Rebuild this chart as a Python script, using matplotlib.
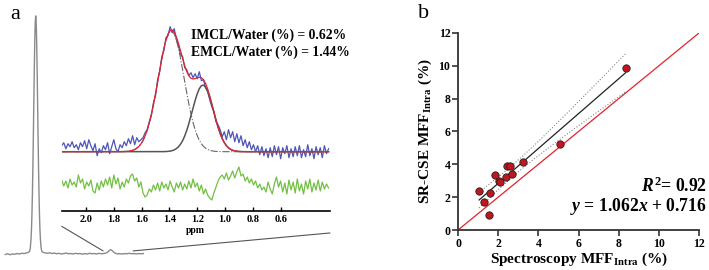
import numpy as np
import matplotlib
matplotlib.use("Agg")
import matplotlib.pyplot as plt
from matplotlib.patches import ConnectionPatch

plt.rcParams["font.family"] = ["Liberation Serif", "DejaVu Serif"]
plt.rcParams["mathtext.fontset"] = "custom"
plt.rcParams["mathtext.rm"] = "Liberation Serif:bold"
plt.rcParams["mathtext.it"] = "Liberation Serif:italic:bold"
plt.rcParams["mathtext.bf"] = "Liberation Serif:bold"

# =================================================
# data - panel a, full spectrum (ppm, relative intensity)
# =================================================
full_ppm = [6.0, 5.9, 5.8, 5.7, 5.6, 5.5, 5.4, 5.3, 5.2, 5.1, 5.05, 5.0,
            4.96, 4.93, 4.90, 4.88, 4.86, 4.84, 4.82, 4.80, 4.78, 4.76,
            4.74, 4.72, 4.70, 4.68, 4.66, 4.64, 4.62, 4.60, 4.58, 4.56,
            4.54, 4.52, 4.50, 4.47, 4.44, 4.40, 4.35, 4.3, 4.2, 4.1, 4.0,
            3.9, 3.8, 3.7, 3.6, 3.5, 3.4, 3.3, 3.2, 3.1, 3.0, 2.9, 2.8,
            2.7, 2.6, 2.5, 2.4, 2.3, 2.2, 2.1, 2.0, 1.9, 1.8, 1.7, 1.65,
            1.6, 1.55, 1.5, 1.45, 1.40, 1.35, 1.30, 1.25, 1.2, 1.15, 1.1,
            1.0, 0.9, 0.8, 0.7, 0.6, 0.5, 0.4, 0.3, 0.2, 0.1]
full_int = [-0.002, 0.001, -0.003, 0.000, -0.001, 0.002, 0.000, 0.003,
            0.002, 0.004, 0.006, 0.008, 0.011, 0.026, 0.063, 0.106, 0.170,
            0.257, 0.369, 0.500, 0.642, 0.779, 0.895, 0.973, 1.000, 0.973,
            0.895, 0.779, 0.642, 0.500, 0.369, 0.257, 0.170, 0.106, 0.063,
            0.026, 0.012, 0.008, 0.006, 0.005, 0.003, 0.005, 0.002, 0.004,
            0.001, 0.003, 0.000, 0.002, 0.004, 0.001, 0.002, 0.000, 0.003,
            0.001, 0.002, -0.001, 0.002, 0.000, 0.003, 0.001, 0.002, 0.000,
            0.003, 0.001, 0.002, 0.004, 0.006, 0.010, 0.015, 0.018, 0.016,
            0.011, 0.006, 0.003, 0.002, 0.000, 0.002, 0.001, 0.000, 0.002,
            0.001, 0.003, 0.001, 0.002, 0.000, 0.002, 0.001, 0.002]

# ppm window shown in the inset (where the zoom lines land on the spectrum)
zoom_window = [1.82, 0.54]

# =================================================
# data - panel a inset (lipid region)
# =================================================
inset_ppm_first = 2.175
inset_ppm_step = 0.015
inset_raw = [6, 9, 3, 8, 5, 10, 4, 7, 2, 9, 5, 11, 3, 12, 6, 1, 8, -4, 3, -1,
             6, 2, 9, -2, 5, 12, 3, 0, 7, 4, 10, 6, 13, 8, 16, 7, 14, 10, 12,
             14, 19, 22, 30, 36, 49, 56, 72, 80, 95, 101, 114, 116, 125, 119,
             123, 112, 106, 97, 95, 84, 82, 76, 79, 74, 78, 73, 80, 71, 72,
             64, 60, 52, 45, 40, 30, 27, 22, 15, 20, 12, 22, 14, 20, 10, 18,
             9, 16, 6, 12, 4, 10, 2, 7, 0, 6, -3, 5, -4, 3, -6, 4, -5, 6, -3,
             5, -7, 4, -2, 6, -6, 3, -5, 5, -4, 6, -6, 2, -5, 7, -4, 3, -7, 5,
             -3, 4, -6, 6, -2, 3]
residual = [5, -1, 4, -3, 6, 0, 3, -2, 10, 2, 6, -4, 3, -1, 5, -6, -8, 2, -5,
            4, -2, 6, 0, 8, -3, 10, 1, 7, -4, 3, -2, 6, 2, 9, 11, 4, 7, -2, 3,
            -8, -12, -10, -4, -7, 0, -5, 2, -6, 3, -3, 1, -5, 4, -2, -7, 2, -3,
            3, -5, 1, -4, 4, -3, 6, -2, 2, -6, 0, -9, -4, -10, -13, -15, -8,
            -2, 4, 8, 10, 6, 12, 5, 9, 14, 7, 13, 18, 9, 11, 4, 8, 2, 6, 0, 4,
            -3, 1, -5, -2, -7, 3, -4, -9, 1, 8, -2, 4, -7, 2, -9, 5, -5, 3, -8,
            6, -6, 1, -9, 4, -4, 6, -7, 2, -5, 5, -6, 3, -4, 1, -3]

# fitted components: (centre ppm, height, width sigma ppm)
peak_dashdot = (1.387, 121.0, 0.093)
peak_solid = (1.159, 66.7, 0.077)

imcl_text = "IMCL/Water (%) = 0.62%"
emcl_text = "EMCL/Water (%) = 1.44%"
inset_ticks = [2.0, 1.8, 1.6, 1.4, 1.2, 1.0, 0.8, 0.6]

# =================================================
# data - panel b
# =================================================
spec_mff = [1.05, 1.28, 1.58, 1.56, 1.84, 2.03, 2.08, 2.38, 2.46, 2.58,
            2.71, 3.24, 5.09, 8.34]
cse_mff = [2.40, 1.71, 2.28, 0.89, 3.34, 2.99, 2.93, 3.23, 3.90, 3.90,
           3.42, 4.17, 5.23, 9.84]
slope, intercept = 1.062, 0.716
r_squared = 0.92
t_crit = 2.179  # 95 %, df = 12

# =================================================
# figure
# =================================================
fig = plt.figure(figsize=(7.09, 2.70), dpi=100)

# ---- full spectrum
ax_full = fig.add_axes([0.0, 0.0296, 0.2116, 0.952])
ax_full.plot(full_ppm, full_int, color="#8a8a8a", lw=1.0)
ax_full.set_xlim(6.226, -0.185)
ax_full.set_ylim(-0.0336, 1.046)
ax_full.axis("off")

# ---- inset
ax_in = fig.add_axes([0.087, 0.2185, 0.3784, 0.7074])
ppm = inset_ppm_first - inset_ppm_step * np.arange(len(inset_raw))


def gauss(x, p):
    c, h, s = p
    return h * np.exp(-0.5 * ((x - c) / s) ** 2)


dd = gauss(ppm, peak_dashdot)
so = gauss(ppm, peak_solid)

ax_in.plot(ppm, inset_raw, color="#4d55b8", lw=0.9)
ax_in.plot(ppm, so, color="#555555", lw=1.1)
ax_in.plot(ppm, dd, color="#666666", lw=0.8, ls="-.")
ax_in.plot(ppm, dd + so, color="#e3232e", lw=0.9)
ax_in.plot(ppm, np.array(residual) - 33.3, color="#72c043", lw=0.9)

ax_in.set_xlim(2.175, 0.245)
ax_in.set_ylim(-59.3, 131.7)
ax_in.set_xticks(inset_ticks)
ax_in.set_xticklabels([f"{t:.1f}" for t in inset_ticks],
                      fontsize=7.5, fontweight="bold")
ax_in.tick_params(axis="x", direction="in", length=3, width=1, pad=3)
ax_in.set_yticks([])
for side in ["left", "right", "top"]:
    ax_in.spines[side].set_visible(False)
ax_in.spines["bottom"].set_linewidth(1.2)
ax_in.patch.set_alpha(0)
ax_in.set_xlabel("ppm", fontsize=7, fontweight="bold", labelpad=1)

# zoom lines from inset to the full spectrum
for frac, y_frac, p in [(0.0, -0.08, zoom_window[0]), (1.0, -0.115, zoom_window[1])]:
    con = ConnectionPatch(xyA=(frac, y_frac), coordsA=ax_in.transAxes,
                          xyB=(p, 0.013), coordsB=ax_full.transData,
                          color="#555555", lw=0.8)
    fig.add_artist(con)

fig.text(0.269, 0.858, imcl_text, fontsize=9.8, fontweight="bold",
         va="baseline")
fig.text(0.269, 0.794, emcl_text, fontsize=9.8, fontweight="bold",
         va="baseline")
fig.text(0.0141, 0.93, "a", fontsize=16, va="baseline")

# ---- panel b
ax_b = fig.add_axes([0.646, 0.148, 0.340, 0.730])
ax_b.plot([0, 12], [0, 12], color="#e3232e", lw=0.9)

x_arr = np.array(spec_mff)
y_arr = np.array(cse_mff)
xs = np.linspace(x_arr.min(), x_arr.max(), 100)
fit = slope * xs + intercept
res = y_arr - (slope * x_arr + intercept)
s = np.sqrt(np.sum(res ** 2) / (len(x_arr) - 2))
sxx = np.sum((x_arr - x_arr.mean()) ** 2)
half = t_crit * s * np.sqrt(1 / len(x_arr) + (xs - x_arr.mean()) ** 2 / sxx)

ax_b.plot(xs, fit, color="#222222", lw=0.9)
ax_b.plot(xs, fit + half, color="#888888", lw=0.8, ls=":")
ax_b.plot(xs, fit - half, color="#888888", lw=0.8, ls=":")
ax_b.scatter(spec_mff, cse_mff, s=28, color="#c0161f", edgecolor="#222222",
             linewidth=0.6, zorder=5, clip_on=False)

ax_b.set_xlim(0, 12)
ax_b.set_ylim(0, 12)
ax_b.set_xticks(range(0, 13, 2))
ax_b.set_yticks(range(0, 13, 2))
for lab in ax_b.get_xticklabels() + ax_b.get_yticklabels():
    lab.set_fontweight("bold")
    lab.set_fontsize(8.5)
ax_b.tick_params(length=4, width=1.2, pad=1.5, color="#333333")
for side in ["right", "top"]:
    ax_b.spines[side].set_visible(False)
for side in ["left", "bottom"]:
    ax_b.spines[side].set_linewidth(1.3)
    ax_b.spines[side].set_color("#333333")

ax_b.set_xlabel(r"Spectroscopy MFF$_{\mathrm{Intra}}$ (%)", fontsize=11,
                fontweight="bold", labelpad=1)
ax_b.set_ylabel(r"SR-CSE MFF$_{\mathrm{Intra}}$ (%)", fontsize=11,
                fontweight="bold", labelpad=3)

ax_b.text(1.033, 0.194, rf"$R^2$= {r_squared:.2f}", transform=ax_b.transAxes,
          ha="right", va="baseline", fontsize=12.7, fontweight="bold")
ax_b.text(1.033, 0.098, rf"$y$ = {slope:.3f}$x$ + {intercept:.3f}",
          transform=ax_b.transAxes, ha="right", va="baseline",
          fontsize=12.7, fontweight="bold")
fig.text(0.59, 0.932, "b", fontsize=16, va="baseline")

plt.savefig("out.png", dpi=100)
